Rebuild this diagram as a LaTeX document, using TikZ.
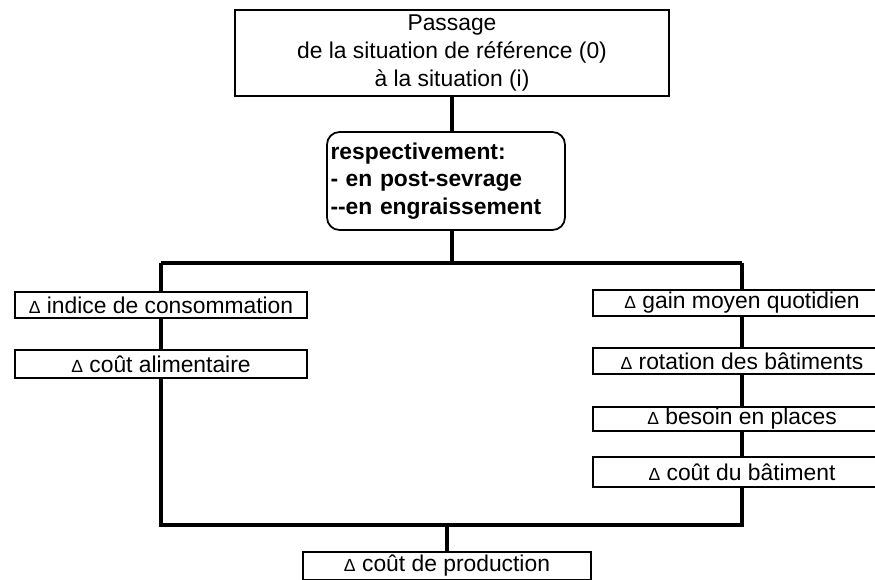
\documentclass[tikz,border=0pt]{standalone}
\usepackage{fontspec}
\setmainfont{Liberation Sans}
\usepackage{tikz}
\usetikzlibrary{calc, positioning}
\newcommand{\dlt}{{\fontsize{10}{10}\selectfont Δ}\ }
\tikzset{
    x=0.02cm, y=-0.02cm,% one unit is one pixel of the original, y going down
    box/.style = {draw, fill=white, line width=1pt, inner sep=0pt, font=\fontsize{13}{16}\selectfont},
    roundbox/.style = {box, rounded corners=0.25cm, align=left, text width=4.62cm, inner xsep=0.07cm, font=\fontsize{13}{15.5}\selectfont\bfseries},
    lbox/.style = {box, minimum width=5.84cm},
    rbox/.style = {box, minimum width=5.96cm},
    bus/.style = {line width=1.9pt}
}

\begin{document}
\begin{tikzpicture}
    \useasboundingbox (0,0) rectangle (875,579);
    \clip (0,0) rectangle (875,579);
    % points where the lines meet
    \coordinate (busl) at (161,263);
    \coordinate (busc) at (452,263);
    \coordinate (busr) at (742,263);
    \coordinate (suml) at (161,525);
    \coordinate (sumc) at (447,525);
    \coordinate (sumr) at (742,525);
    % boxes
    \node [box, minimum width=8.68cm, minimum height=1.72cm, align=center] (pass) at (452,53)
        {Passage\\de la situation de référence (0)\\à la situation (i)};
    \node [roundbox, minimum height=1.96cm] (resp) at (446,181)
        {respectivement:\\- en post-sevrage\\-{}-en engraissement};
    \node [lbox, minimum height=0.52cm] (ind) at (161,305) {\dlt indice de consommation};
    \node [lbox, minimum height=0.56cm] (alim) at (161,364) {\dlt coût alimentaire};
    \node [rbox, minimum height=0.52cm] (gmq) at (742,303) {\dlt gain moyen quotidien};
    \node [rbox, minimum height=0.52cm] (rot) at (742,361) {\dlt rotation des bâtiments};
    \node [rbox, minimum height=0.48cm] (bes) at (742,419) {\dlt besoin en places};
    \node [rbox, minimum height=0.60cm] (cbat) at (742,472) {\dlt coût du bâtiment};
    \node [box, minimum width=5.76cm, minimum height=0.56cm] (prod) at (447,566) {\dlt coût de production};
    % lines
    \draw [bus] (pass.south) -- (pass.south |- resp.north);
    \draw [bus] (resp.south -| pass.south) -- (busc);
    \draw [bus] (busl) -- (busr);
    \draw [bus] (busl) -- (ind) -- (alim) -- (suml) -- (sumr) -- (cbat) -- (bes) -- (rot) -- (gmq) -- (busr);
    \draw [bus] (sumc) -- (prod);
\end{tikzpicture}
\end{document}
